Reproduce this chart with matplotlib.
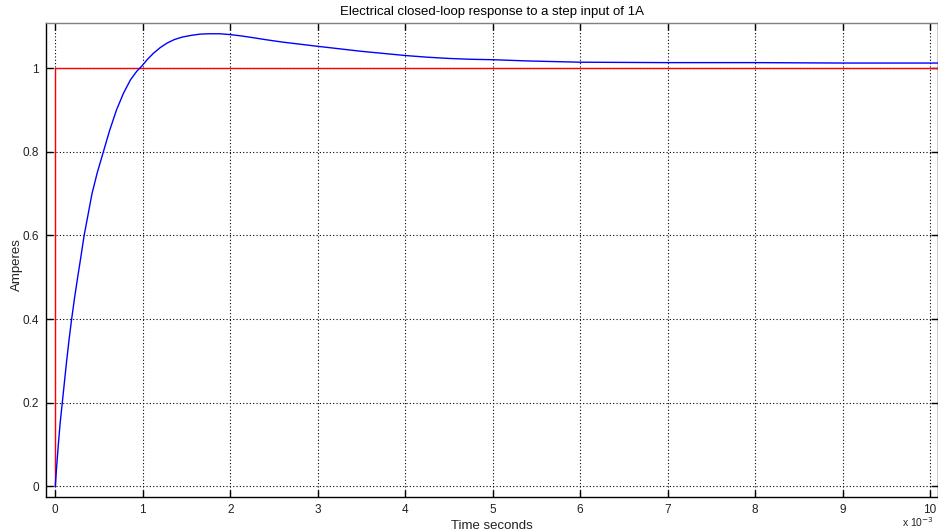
import matplotlib
matplotlib.use("Agg")
import matplotlib.pyplot as plt
import numpy as np

plt.rcParams['font.family'] = ['Liberation Sans', 'DejaVu Sans']

# Time in milliseconds (axis shows x 10^-3 seconds)
t_ms = [0.0, 0.015, 0.035, 0.055, 0.08, 0.105, 0.13, 0.16, 0.187, 0.22, 0.256,
        0.29, 0.33, 0.375, 0.42, 0.48, 0.55, 0.62, 0.70, 0.78, 0.86, 0.93,
        0.99, 1.05, 1.12, 1.2, 1.28, 1.36, 1.45, 1.55, 1.65, 1.75, 1.88, 2.0,
        2.12, 2.25, 2.4, 2.6, 2.8, 3.0, 3.25, 3.5, 3.75, 4.0, 4.25, 4.5,
        4.75, 5.0, 5.4, 6.0, 7.0, 8.0, 9.0, 10.1]
current = [0.0, 0.045, 0.1, 0.15, 0.2, 0.25, 0.3, 0.355, 0.4, 0.45, 0.5,
           0.545, 0.6, 0.65, 0.7, 0.75, 0.8, 0.85, 0.9, 0.94, 0.972, 0.992,
           1.005, 1.02, 1.035, 1.049, 1.06, 1.068, 1.074, 1.078, 1.081, 1.082, 1.082, 1.080,
           1.077, 1.073, 1.068, 1.062, 1.057, 1.052, 1.046, 1.040, 1.035, 1.030, 1.026, 1.023,
           1.021, 1.020, 1.017, 1.014, 1.013, 1.013, 1.012, 1.012]

step_t = [0.0, 0.0, 10.1]
step_y = [0.0, 1.0, 1.0]

x_ticks = list(range(0, 11))
y_ticks = [0, 0.2, 0.4, 0.6, 0.8, 1]
y_labels = ["0", "0.2", "0.4", "0.6", "0.8", "1"]

fig = plt.figure(figsize=(9.38, 5.32), dpi=100)
ax = fig.add_axes([46/938, 1 - 497.3/532, 1 - 46/938, (497.3 - 23.3)/532])

ax.plot(step_t, step_y, color='#ff0000', lw=1.0, zorder=3)
ax.plot(t_ms, current, color='#0000ff', lw=1.0, zorder=4)

ax.set_xlim(-0.106, 10.09)
ax.set_ylim(-0.026, 1.107)
ax.set_xticks(x_ticks)
ax.set_xticklabels([str(v) for v in x_ticks])
ax.set_yticks(y_ticks)
ax.set_yticklabels(y_labels)

ax.grid(True, color='black', linestyle=(0, (1, 2)), linewidth=0.8)
ax.tick_params(direction='in', length=5, width=1, top=True, right=True,
               labelsize=8.5, labelcolor='#222222', colors='black', pad=5)
for sp in ax.spines.values():
    sp.set_color('black')
    sp.set_linewidth(1.0)
ax.spines['top'].set_color('#808080')

ax.set_title("Electrical closed-loop response to a step input of 1A", fontsize=9.5, pad=6)
ax.set_xlabel("Time seconds", fontsize=9.5, labelpad=3, color='#222222')
ax.set_ylabel("Amperes", fontsize=9.5, color='#222222')
ax.yaxis.set_label_coords(-0.026, 0.49)

fig.text(0.996, 0.006, r"x 10$^{-3}$", fontsize=7.5, color='#222222', ha='right', va='bottom')

fig.savefig("out.png", dpi=100)
